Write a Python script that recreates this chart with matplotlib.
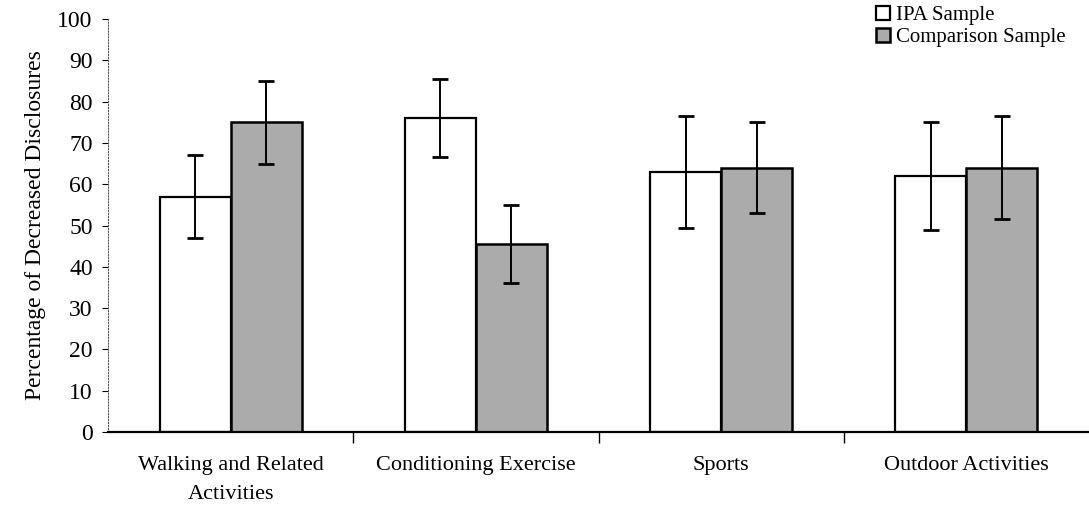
import matplotlib
matplotlib.use("Agg")
import matplotlib.pyplot as plt
import numpy as np

# data
categories = ["Walking and Related\nActivities", "Conditioning Exercise", "Sports", "Outdoor Activities"]
ipa = [57, 76, 63, 62]
ipa_err = [10, 9.5, 13.5, 13]
comp = [75, 45.5, 64, 64]
comp_err = [10, 9.5, 11, 12.5]
yticks = list(range(0, 101, 10))

plt.rcParams["font.family"] = ["Liberation Serif", "DejaVu Serif"]

fig = plt.figure(figsize=(10.89, 5.15), dpi=100)
ax = fig.add_axes([108 / 1089, 83 / 515, 981 / 1089, 413 / 515])

x = np.arange(len(categories))
w = 0.29
ax.bar(x - w / 2, ipa, w, color="white", edgecolor="black", linewidth=1.6, label="IPA Sample")
ax.bar(x + w / 2, comp, w, color="#ababab", edgecolor="black", linewidth=1.8, label="Comparison Sample")
ax.errorbar(x - w / 2, ipa, yerr=ipa_err, fmt="none", ecolor="black", elinewidth=1.4, capsize=6, capthick=2)
ax.errorbar(x + w / 2, comp, yerr=comp_err, fmt="none", ecolor="black", elinewidth=1.4, capsize=6, capthick=2)

ax.set_xlim(-0.5, len(categories) - 0.5)
ax.set_ylim(0, 100)
ax.set_yticks(yticks)
ax.tick_params(axis="y", length=4, width=0.8, colors="black", labelsize=17, pad=7)
ax.set_xticks(x)
ax.set_xticklabels(categories, fontsize=16, linespacing=1.75)
ax.tick_params(axis="x", length=0, pad=17)
# category separator ticks
ax.set_xticks(np.arange(0.5, len(categories) - 0.5, 1), minor=True)
ax.tick_params(axis="x", which="minor", length=8, width=1, direction="out")

for s in ["top", "right"]:
    ax.spines[s].set_visible(False)
ax.spines["left"].set_linestyle(":")
ax.spines["left"].set_color("#555555")
ax.spines["bottom"].set_linewidth(1.6)

ax.set_ylabel("Percentage of Decreased Disclosures", fontsize=17, labelpad=8)

ax.legend(loc="upper left", bbox_to_anchor=(876 / 1089, 1 - 6 / 515), bbox_transform=fig.transFigure,
          frameon=False, fontsize=15, handlelength=0.65, handleheight=0.65, handletextpad=0.3,
          labelspacing=0.12, borderaxespad=0, borderpad=0)

fig.savefig("out.png", dpi=100)
